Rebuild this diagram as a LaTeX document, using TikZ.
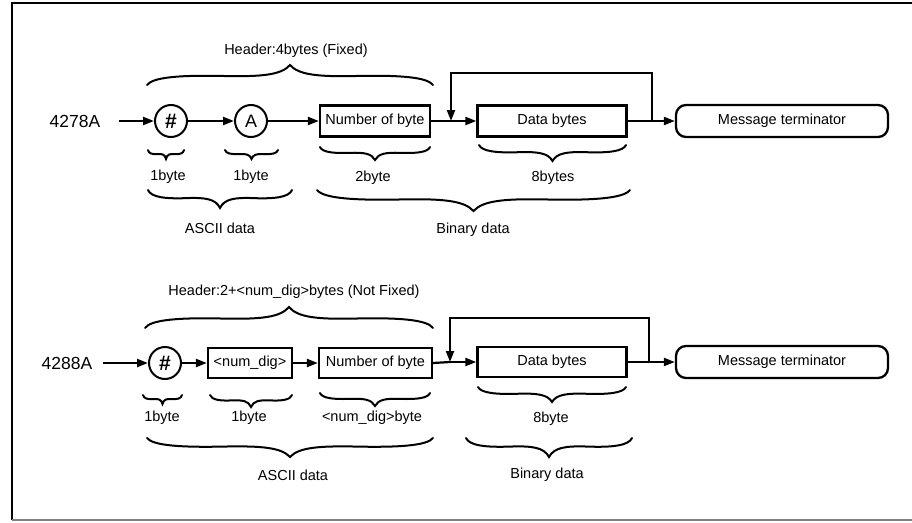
\documentclass[tikz,border=0pt]{standalone}
\usepackage{fontspec}
\setmainfont{Liberation Sans}
\usetikzlibrary{arrows.meta,positioning}

% brace: left x, right x, y of the ends, depth of the tip (negative = tip up)
\newcommand\wavybrace[4]{%
  \draw[bracestyle, shift={(#1,#3)}, xscale={#2-#1}, yscale={#4}]
    (0,0) .. controls (0.02,0.4) and (0.12,0.5) .. (0.27,0.45)
    .. controls (0.4,0.41) and (0.47,0.5) .. (0.5,1)
    .. controls (0.53,0.5) and (0.6,0.41) .. (0.73,0.45)
    .. controls (0.88,0.5) and (0.98,0.4) .. (1,0);}

\begin{document}
\begin{tikzpicture}[x=1pt,y=-1pt,
    every node/.style={font=\fontsize{14.5}{17}\selectfont, inner sep=0pt},
    devlabel/.style={font=\fontsize{17.5}{20}\selectfont},
    charnode/.style={draw, circle, line width=2pt, minimum size=32pt},
    fieldbox/.style={draw, rectangle, line width=2.3pt, minimum height=31pt},
    endbox/.style={draw, rounded corners=10pt, line width=2.3pt, minimum width=212pt, minimum height=32pt},
    link/.style={line width=2.2pt},
    flow/.style={link, -{Triangle[length=11pt,width=8pt]}},
    bracestyle/.style={line width=2pt, line cap=round}]

  \useasboundingbox (0,0) rectangle (912,522);

  % frame
  \draw[line width=2.8pt] (912,3) -- (12,3) -- (12,520);
  \draw[line width=1.5pt, gray] (12,520) -- (912,520);

  % 4278A
  \node[devlabel] (devA) at (75,121) {4278A};
  \node[charnode] (hashA) at (171,121) {\fontsize{21}{22}\selectfont\bfseries\#};
  \node[charnode] (letA) at (251,121) {\fontsize{18}{20}\selectfont A};
  \node[fieldbox, minimum width=110pt] (numA) at (375,121) {Number of byte};
  \node[fieldbox, minimum width=149pt] (dataA) at (552,121) {Data bytes};
  \node[endbox] (termA) at (782,121) {Message terminator};
  \coordinate (backA) at (451,121);
  \coordinate (loopA) at (652,121);

  \draw[flow, shorten <=18pt] (devA) -- (hashA);
  \draw[flow] (hashA) -- (letA);
  \draw[flow] (letA) -- (numA);
  \draw[link] (numA) -- (backA);
  \draw[flow] (backA) -- (dataA);
  \draw[link] (dataA) -- (loopA);
  \draw[flow] (loopA) -- (termA);
  \draw[flow] (loopA) -- (loopA |- 0,73) -| (backA);

  \node (headA) at (296,51) {Header:4bytes (Fixed)};
  \wavybrace{147}{433}{85}{-20}
  \wavybrace{148}{184}{150}{9}
  \wavybrace{225}{278}{150}{9}
  \wavybrace{320}{430}{147}{13}
  \wavybrace{479}{626}{145}{16}
  \node (oneA) at (168,177) {1byte};
  \node (twoA) at (251,177) {1byte};
  \node (threeA) at (373,178) {2byte};
  \node (fourA) at (553,178) {8bytes};
  \wavybrace{148}{292}{190}{18}
  \wavybrace{317}{630}{190}{21}
  \node (asciiA) at (220,228) {ASCII data};
  \node (binA) at (473,230) {Binary data};

  % 4288A
  \node[devlabel] (devB) at (67,363) {4288A};
  \node[charnode] (hashB) at (165,363) {\fontsize{21}{22}\selectfont\bfseries\#};
  \node[fieldbox, minimum width=84pt, minimum height=30pt] (digB) at (250,363) {<num\_dig>};
  \node[fieldbox, minimum width=113pt, minimum height=30pt] (numB) at (375.5,363) {Number of byte};
  \node[fieldbox, minimum width=149pt, minimum height=30pt] (dataB) at (552,362) {Data bytes};
  \node[endbox] (termB) at (782,362) {Message terminator};
  \coordinate (backB) at (450,362);
  \coordinate (loopB) at (649,362);

  \draw[flow, shorten <=10pt] (devB) -- (hashB);
  \draw[flow] (hashB) -- (digB);
  \draw[flow] (digB) -- (numB);
  \draw[link] (numB.east) -- (backB);
  \draw[flow] (backB) -- (dataB);
  \draw[link] (dataB) -- (loopB);
  \draw[flow] (loopB) -- (termB);
  \draw[flow] (loopB) -- (loopB |- 0,318) -| (backB);

  \node (headB) at (294,292) {Header:2+<num\_dig>bytes (Not Fixed)};
  \wavybrace{145}{433}{328}{-21}
  \wavybrace{143}{182}{395}{9}
  \wavybrace{210}{292}{395}{12}
  \wavybrace{320}{430}{393}{13}
  \wavybrace{478}{626}{387}{15}
  \node (oneB) at (162,418) {1byte};
  \node (twoB) at (249,418) {1byte};
  \node (threeB) at (372,418) {<num\_dig>byte};
  \node (fourB) at (551,419) {8byte};
  \wavybrace{147}{433}{438}{19}
  \wavybrace{466}{632}{438}{19}
  \node (asciiB) at (293,475) {ASCII data};
  \node (binB) at (547,475) {Binary data};
\end{tikzpicture}
\end{document}
